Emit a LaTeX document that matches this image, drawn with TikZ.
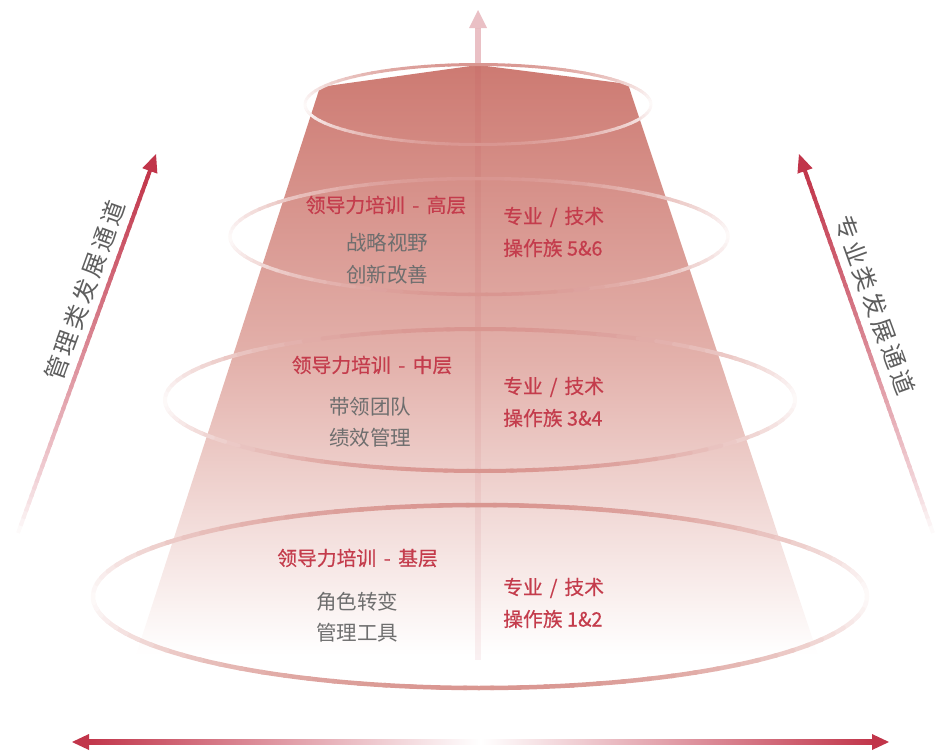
\documentclass[tikz,border=0pt]{standalone}
\usepackage{fontspec}
\newfontfamily\cjk{Noto Sans CJK SC}
\newfontfamily\cjkb[FakeBold=0.45]{Noto Sans CJK SC}
\usetikzlibrary{calc}
\definecolor{conetop}{HTML}{CD7A72}
\definecolor{conemid}{HTML}{E3B1AB}
\definecolor{ellc}{HTML}{D68E88}
\definecolor{redtxt}{HTML}{C43C4C}
\definecolor{graytxt}{HTML}{6E6E6E}
\definecolor{sidetxt}{HTML}{5E5E5E}
\definecolor{arrred}{HTML}{C1354A}
\definecolor{stemc}{HTML}{B83040}
\newcommand{\dsh}{\hspace{0.38em}-\hspace{0.38em}}
\newcommand{\slsh}{\hspace{0.35em}/\hspace{0.35em}}
\begin{document}
\begin{tikzpicture}[x=1pt,y=-1pt,
  redlbl/.style={font=\cjkb\fontsize{19.8}{23}\selectfont, text=redtxt, inner sep=0pt},
  graylbl/.style={font=\cjk\fontsize{20.5}{24}\selectfont, text=graytxt, inner sep=0pt},
  sidelbl/.style={font=\cjk\fontsize{24}{26}\selectfont, text=sidetxt, inner sep=0pt},
  headfill/.style={fill=arrred, draw=none},
  stemhead/.style={fill=stemc, fill opacity=0.3, draw=none}]
\useasboundingbox (0,0) rectangle (935,755);

% cone
\shade[top color=conetop, bottom color=white, middle color=conemid]
  (320,87) -- (478,65) -- (628,84) -- (818,655) -- (136,655) -- cycle;

% central up arrow
\coordinate (Utip) at (478,10);
\coordinate (Ubase) at (478,28);
\coordinate (Ucone) at (478,65);
\coordinate (Uend) at (478,660);
\draw[line width=6pt, stemc, opacity=0.3] (Ubase) -- (Ucone);
\draw[line width=6pt, stemc, opacity=0.07] (Ucone) -- (Uend);
\fill[stemhead] (Utip) -- ($(Ubase)+(9,0)$) -- ($(Ubase)+(-9,0)$) -- cycle;

% ellipses
\foreach \cx/\cy/\rx/\ry/\lw in {478/104.5/173/40/3, 479/236.5/249/58/3.5, 480/400/315/71/4, 480/596.5/387/91.5/4.5}{
  \foreach \a in {0,4,...,356}{
    \pgfmathsetmacro\p{5+88*abs(sin(\a+2))^1.5}
    \draw[line width=\lw pt, ellc!\p!white, line cap=round]
      plot[domain=\a:\a+4.4, samples=3] ({\cx+\rx*cos(\x)},{\cy+\ry*sin(\x)});
  }
}

% texts - top
\node[redlbl] (hi) at (386,205) {领导力培训\dsh 高层};
\node[graylbl] (hi1) at (387,243) {战略视野};
\node[graylbl] (hi2) at (387,275) {创新改善};
\node[redlbl, anchor=west] (hr1) at (503,217) {专业\slsh 技术};
\node[redlbl, anchor=west] (hr2) at (503,248) {操作族 5\&6};
% middle
\node[redlbl] (mi) at (372,365) {领导力培训\dsh 中层};
\node[graylbl] (mi1) at (370,407) {带领团队};
\node[graylbl] (mi2) at (370,438) {绩效管理};
\node[redlbl, anchor=west] (mr1) at (503,387) {专业\slsh 技术};
\node[redlbl, anchor=west] (mr2) at (503,418) {操作族 3\&4};
% base
\node[redlbl] (bi) at (357.5,558) {领导力培训\dsh 基层};
\node[graylbl] (bi1) at (357,602) {角色转变};
\node[graylbl] (bi2) at (357,633) {管理工具};
\node[redlbl, anchor=west] (br1) at (503,588) {专业\slsh 技术};
\node[redlbl, anchor=west] (br2) at (503,619) {操作族 1\&2};

% left arrow
\coordinate (L0) at (18,533);
\coordinate (Ltip) at (156,154);
\coordinate (Lh) at ($(Ltip)!18pt!(L0)$);
\foreach \i in {0,...,49}{
  \pgfmathsetmacro\ta{\i/50}
  \pgfmathsetmacro\tb{(\i+1.4)/50}
  \pgfmathsetmacro\p{100*((\i+0.5)/50)^0.8}
  \draw[line width=4pt, arrred!\p!white] ($(L0)!\ta!(Lh)$) -- ($(L0)!\tb!(Lh)$);
}
\fill[headfill] (Ltip) -- ($(Lh)!8pt!90:(Ltip)$) -- ($(Lh)!8pt!-90:(Ltip)$) -- cycle;
\node[sidelbl, rotate=70] (ltxt) at (85,291) {管\kern3.5pt 理\kern3.5pt 类\kern3.5pt 发\kern3.5pt 展\kern3.5pt 通\kern3.5pt 道};

% right arrow
\coordinate (R0) at (933,533);
\coordinate (Rtip) at (799,154);
\coordinate (Rh) at ($(Rtip)!18pt!(R0)$);
\foreach \i in {0,...,49}{
  \pgfmathsetmacro\ta{\i/50}
  \pgfmathsetmacro\tb{(\i+1.4)/50}
  \pgfmathsetmacro\p{100*((\i+0.5)/50)^0.8}
  \draw[line width=4pt, arrred!\p!white] ($(R0)!\ta!(Rh)$) -- ($(R0)!\tb!(Rh)$);
}
\fill[headfill] (Rtip) -- ($(Rh)!8pt!90:(Rtip)$) -- ($(Rh)!8pt!-90:(Rtip)$) -- cycle;
\node[sidelbl, rotate=-70] (rtxt) at (875,305) {专\kern3.5pt 业\kern3.5pt 类\kern3.5pt 发\kern3.5pt 展\kern3.5pt 通\kern3.5pt 道};

% bottom double arrow
\coordinate (B0) at (72,742);
\coordinate (B1) at (889,742);
\shade[left color=arrred, right color=arrred, middle color=white] (86,739.5) rectangle (875,744.5);
\fill[headfill] (B0) -- ($(B0)+(17,-8)$) -- ($(B0)+(17,8)$) -- cycle;
\fill[headfill] (B1) -- ($(B1)+(-17,-8)$) -- ($(B1)+(-17,8)$) -- cycle;
\end{tikzpicture}
\end{document}
